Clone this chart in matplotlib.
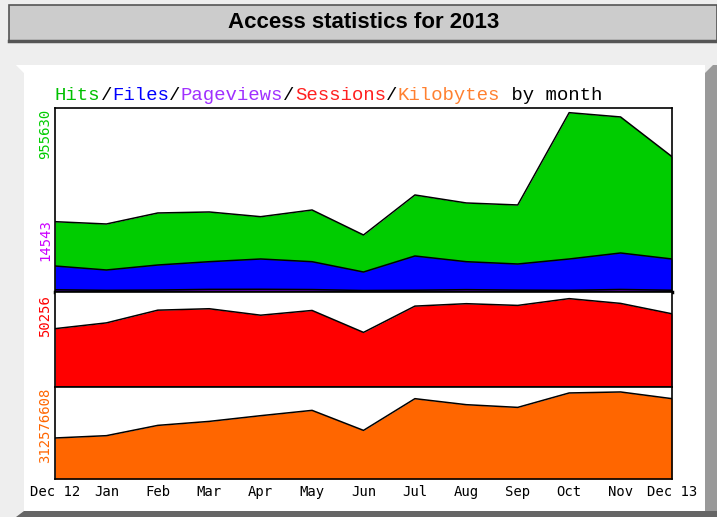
import numpy as np
import matplotlib
matplotlib.use('Agg')
import matplotlib.pyplot as plt
from matplotlib.patches import Rectangle, Polygon

# monthly data, Dec 2012 .. Dec 2013
months = ['Dec 12', 'Jan', 'Feb', 'Mar', 'Apr', 'May', 'Jun',
          'Jul', 'Aug', 'Sep', 'Oct', 'Nov', 'Dec 13']
hits = [374700, 362400, 421100, 426400, 401300, 437000, 303800,
        517000, 474400, 463700, 955630, 932700, 721100]
files = [138600, 117300, 143900, 161500, 175900, 161500, 106600,
         191900, 161500, 149200, 175900, 207900, 175900]
pageviews = [12000, 9000, 10500, 14000, 14543, 13000, 8000,
             9500, 12500, 10000, 9000, 13500, 9500]
sessions = [33180, 36460, 43700, 44510, 40830, 43530, 31050,
            46000, 47380, 46400, 50256, 47550, 41630]
kbytes = [147.3e6, 155.6e6, 192.6e6, 206.9e6, 227.4e6, 246.5e6, 174.6e6,
          288.5e6, 266.9e6, 257.2e6, 309.0e6, 312576608, 288.5e6]

legend_parts = [('Hits', '#00c000'), ('/', '#000000'), ('Files', '#0000ff'),
                ('/', '#000000'), ('Pageviews', '#a030ff'), ('/', '#000000'),
                ('Sessions', '#ff2020'), ('/', '#000000'),
                ('Kilobytes', '#ff8030'), (' by month', '#000000')]

W, H = 717, 517
fig = plt.figure(figsize=(W / 100, H / 100), dpi=100)
fig.patch.set_facecolor('#eeeeee')

# background axes in pixel coords for the frame decoration
bg = fig.add_axes([0, 0, 1, 1])
bg.set_xlim(0, W)
bg.set_ylim(H, 0)
bg.axis('off')

# title bar
bg.add_patch(Rectangle((9, 5), W - 9, 36, facecolor='#cccccc', edgecolor='#555555', lw=1.2))
bg.plot([9, W], [40.5, 40.5], color='#555555', lw=2.5)
bg.text(364, 22, 'Access statistics for 2013', ha='center', va='center',
        fontsize=16, fontweight='bold', family='Liberation Sans')

# white panel with bevels
bg.add_patch(Polygon([[16, 65], [705, 65], [705, 511], [24, 511], [24, 73], [16, 65]],
                     closed=True, facecolor='#f4f4f4', edgecolor='none'))
bg.add_patch(Rectangle((24, 73), 681, 438, facecolor='white', edgecolor='none'))
bg.add_patch(Polygon([[16, 65], [705, 65], [705, 73], [24, 73]], closed=True,
                     facecolor='white', edgecolor='none'))
bg.add_patch(Polygon([[705, 73], [713, 65], [W, 65], [W, H], [705, 511]], closed=True,
                     facecolor='#999999', edgecolor='none'))
bg.add_patch(Polygon([[24, 511], [705, 511], [W, 511], [W, H], [16, H]], closed=True,
                     facecolor='#666666', edgecolor='none'))

# legend title built from coloured pieces (monospace)
cw = 11.42
pos = 0
for txt, col in legend_parts:
    bg.text(55 + pos * cw, 100, txt, color=col, ha='left', va='baseline',
            fontsize=13.7, family='Liberation Mono')
    pos += len(txt)


def panel(top, bottom):
    return fig.add_axes([55 / W, 1 - bottom / H, 617 / W, (bottom - top) / H])


x = np.arange(len(months))

ax1 = panel(108, 292)
ax2 = panel(292, 387)
ax3 = panel(387, 479)

for ax, series, top in [
        (ax1, [(hits, '#00cc00'), (files, '#0000ff'), (pageviews, '#7000d0')], max(hits) * 1.026),
        (ax2, [(sessions, '#ff0000')], max(sessions) * 1.075),
        (ax3, [(kbytes, '#ff6600')], max(kbytes) * 1.057)]:
    for vals, col in series:
        ax.fill_between(x, 0, vals, color=col, lw=0)
        ax.plot(x, vals, color='black', lw=1.1)
    ax.set_xlim(0, len(months) - 1)
    ax.set_ylim(0, top)
    ax.set_xticks([])
    ax.set_yticks([])
    for s in ax.spines.values():
        s.set_linewidth(1.2)
        s.set_color('black')

# thicker divider under the hits/files panel
ax1.spines['bottom'].set_linewidth(2.5)

# max labels on the left (rotated)
lab_font = dict(rotation=90, family='DejaVu Sans Mono', fontsize=10, ha='center')
bg.text(45, 109, str(max(hits)), color='#00cc00', va='top', **lab_font)
bg.text(45, 240, str(max(pageviews)), color='#cc00ff', va='center', **lab_font)
bg.text(45, 295, str(max(sessions)), color='#ff0000', va='top', **lab_font)
bg.text(45, 388, str(int(max(kbytes))), color='#ff6600', va='top', **lab_font)

# month labels
for i, m in enumerate(months):
    xp = 55 + i * 617 / (len(months) - 1)
    bg.text(xp, 492, m, ha='center', va='center', family='DejaVu Sans Mono', fontsize=10)

fig.savefig('out.png', dpi=100, facecolor=fig.get_facecolor())
